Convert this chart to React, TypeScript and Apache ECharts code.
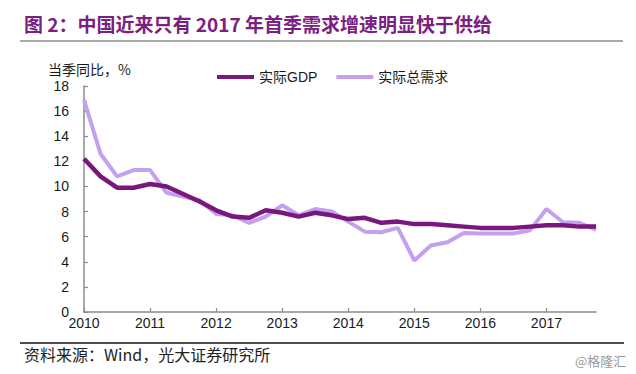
import React, { useEffect, useRef } from "react";
import * as echarts from "echarts";

const quarters = [
  "2010Q1", "2010Q2", "2010Q3", "2010Q4",
  "2011Q1", "2011Q2", "2011Q3", "2011Q4",
  "2012Q1", "2012Q2", "2012Q3", "2012Q4",
  "2013Q1", "2013Q2", "2013Q3", "2013Q4",
  "2014Q1", "2014Q2", "2014Q3", "2014Q4",
  "2015Q1", "2015Q2", "2015Q3", "2015Q4",
  "2016Q1", "2016Q2", "2016Q3", "2016Q4",
  "2017Q1", "2017Q2", "2017Q3", "2017Q4",
];

const realGDP = [
  12.2, 10.8, 9.9, 9.9,
  10.2, 10.0, 9.4, 8.8,
  8.1, 7.6, 7.5, 8.1,
  7.9, 7.6, 7.9, 7.7,
  7.4, 7.5, 7.1, 7.2,
  7.0, 7.0, 6.9, 6.8,
  6.7, 6.7, 6.7, 6.8,
  6.9, 6.9, 6.8, 6.8,
];

const realDemand = [
  16.9, 12.6, 10.8, 11.3,
  11.3, 9.5, 9.2, 8.9,
  7.8, 7.7, 7.1, 7.6,
  8.5, 7.7, 8.2, 8.0,
  7.2, 6.4, 6.35, 6.7,
  4.1, 5.3, 5.55, 6.3,
  6.25, 6.25, 6.25, 6.5,
  8.2, 7.15, 7.1, 6.55,
];

const seriesNames = ["实际GDP", "实际总需求"];
const titleText = "图 2：中国近来只有 2017 年首季需求增速明显快于供给";
const yAxisTitle = "当季同比，%";
const sourceText = "资料来源：Wind，光大证券研究所";
const watermark = "@格隆汇";

const FONT = '"Liberation Sans", Arial, "Noto Sans CJK SC", sans-serif';
const CJK = '"Noto Sans CJK SC", "Liberation Sans", sans-serif';

export default function App() {
  const ref = useRef<HTMLDivElement>(null);

  useEffect(() => {
    if (!ref.current) return;
    const chart = echarts.init(ref.current, null, { renderer: "svg" });
    chart.setOption({
      animation: false,
      backgroundColor: "#ffffff",
      textStyle: { fontFamily: FONT },
      grid: { left: 84, right: 40, top: 86, bottom: 62, containLabel: false },
      legend: {
        left: 217,
        top: 70,
        padding: 0,
        icon: "rect",
        itemWidth: 37,
        itemHeight: 4,
        itemGap: 19,
        textStyle: { fontSize: 14, color: "#1a1a1a", fontFamily: FONT },
        data: seriesNames,
      },
      xAxis: {
        type: "category",
        data: quarters,
        boundaryGap: false,
        axisLine: { lineStyle: { color: "#8c8c8c", width: 1.5 } },
        axisTick: { inside: true, length: 4, interval: 3, lineStyle: { color: "#8c8c8c", width: 1.2 } },
        axisLabel: {
          interval: 3,
          margin: 4,
          fontSize: 14,
          color: "#1a1a1a",
          formatter: (v: string) => v.slice(0, 4),
        },
        splitLine: { show: false },
      },
      yAxis: {
        type: "value",
        min: 0,
        max: 18,
        interval: 2,
        axisLine: { show: true, lineStyle: { color: "#8c8c8c", width: 1.5 } },
        axisTick: { show: true, inside: true, length: 4, lineStyle: { color: "#8c8c8c", width: 1.2 } },
        axisLabel: { margin: 15, fontSize: 14, lineHeight: 14, color: "#1a1a1a" },
        splitLine: { show: false },
      },
      series: [
        {
          name: seriesNames[0],
          type: "line",
          data: realGDP,
          symbol: "none",
          z: 3,
          itemStyle: { color: "#7A177C" },
          lineStyle: { color: "#7A177C", width: 4.5 },
        },
        {
          name: seriesNames[1],
          type: "line",
          data: realDemand,
          symbol: "none",
          z: 2,
          itemStyle: { color: "#C4A0F0" },
          lineStyle: { color: "#C4A0F0", width: 4 },
        },
      ],
      graphic: [
        {
          type: "text",
          left: 24,
          top: 14,
          style: {
            text: titleText,
            fontSize: 19,
            fontWeight: "bold",
            fill: "#7B2080",
            fontFamily: CJK,
          },
        },
        {
          type: "line",
          shape: { x1: 20, y1: 41, x2: 623, y2: 41 },
          style: { stroke: "#555555", lineWidth: 1.2 },
        },
        {
          type: "text",
          left: 48,
          top: 62,
          style: { text: yAxisTitle, fontSize: 14, lineHeight: 14, fill: "#1a1a1a", fontFamily: CJK },
        },
        {
          type: "line",
          shape: { x1: 20, y1: 343, x2: 624, y2: 343 },
          style: { stroke: "#111111", lineWidth: 1.5 },
        },
        {
          type: "text",
          left: 24,
          top: 346,
          style: { text: sourceText, fontSize: 16, fill: "#222222", fontFamily: CJK },
        },
        {
          type: "text",
          left: 575,
          top: 354,
          style: { text: watermark, fontSize: 13, fill: "#9a9a9a", fontFamily: CJK },
        },
      ],
    });
    return () => chart.dispose();
  }, []);

  return (
    <div
      ref={ref}
      style={{ position: "absolute", left: 0, top: 0, width: 636, height: 374 }}
    />
  );
}
